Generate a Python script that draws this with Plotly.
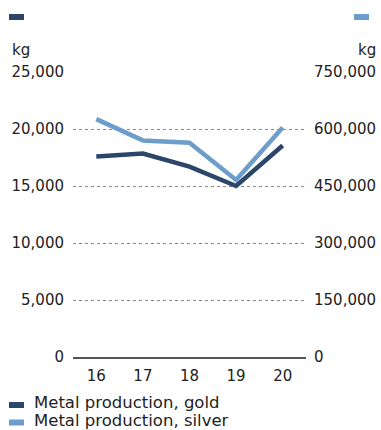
import plotly.graph_objects as go

years = ["16", "17", "18", "19", "20"]
gold_kg = [17600, 17850, 16700, 15000, 18550]
silver_kg = [626000, 570000, 564000, 466000, 604000]
left_ticks = [0, 5000, 10000, 15000, 20000, 25000]
right_ticks = [0, 150000, 300000, 450000, 600000, 750000]

GOLD = "#2b4669"
SILVER = "#6d9ecb"
TXT = "#222222"
FONT = "DejaVu Sans"
PW, PH = 233, 285  # plot area size in px

fig = go.Figure()
fig.add_trace(go.Scatter(x=years, y=gold_kg, mode="lines", name="Metal production, gold",
                         line=dict(color=GOLD, width=4.5), yaxis="y"))
fig.add_trace(go.Scatter(x=years, y=silver_kg, mode="lines", name="Metal production, silver",
                         line=dict(color=SILVER, width=4.5), yaxis="y2"))

fig.update_layout(
    width=381, height=430,
    margin=dict(l=73, r=75, t=72, b=73, autoexpand=False),
    paper_bgcolor="white", plot_bgcolor="white",
    showlegend=False,
    font=dict(family=FONT, size=15, color=TXT),
    xaxis=dict(type="category", range=[-0.5, 4.5], showgrid=False, zeroline=False,
               showline=True, linecolor="#555555", linewidth=1.5,
               ticks="outside", ticklen=4, tickcolor="rgba(0,0,0,0)",
               tickfont=dict(family=FONT, size=15, color=TXT)),
    yaxis=dict(range=[0, 25002], tickvals=left_ticks, tickformat=",d",
               showgrid=True, gridcolor="#888888", griddash="dot", gridwidth=1,
               zeroline=False, showline=False,
               ticks="outside", ticklen=5, tickcolor="rgba(0,0,0,0)",
               tickfont=dict(family=FONT, size=15, color=TXT)),
    yaxis2=dict(range=[0, 750060], tickvals=right_ticks, tickformat=",d",
                overlaying="y", side="right", showgrid=False, zeroline=False,
                showline=False, ticks="outside", ticklen=4, tickcolor="rgba(0,0,0,0)",
                tickfont=dict(family=FONT, size=15, color=TXT)),
)

# top series markers and unit labels
fig.add_shape(type="rect", xref="paper", yref="paper", x0=-64/PW, x1=-49/PW,
              y0=1 + 52/PH, y1=1 + 58/PH, fillcolor=GOLD, line_width=0)
fig.add_shape(type="rect", xref="paper", yref="paper", x0=1 + 48/PW, x1=1 + 63/PW,
              y0=1 + 52/PH, y1=1 + 58/PH, fillcolor=SILVER, line_width=0)
fig.add_annotation(text="kg", xref="paper", yref="paper", x=-63/PW, y=1 + 22/PH,
                   xanchor="left", yanchor="middle", showarrow=False,
                   font=dict(family=FONT, size=15, color=TXT))
fig.add_annotation(text="kg", xref="paper", yref="paper", x=1 + 72/PW, y=1 + 22/PH,
                   xanchor="right", yanchor="middle", showarrow=False,
                   font=dict(family=FONT, size=15, color=TXT))

# bottom legend
for i, (name, col) in enumerate([("Metal production, gold", GOLD),
                                 ("Metal production, silver", SILVER)]):
    mc = -(48 + 17.5 * i) / PH
    tc = -(45 + 18 * i) / PH
    fig.add_shape(type="rect", xref="paper", yref="paper", x0=-64/PW, x1=-49/PW,
                  y0=mc - 3/PH, y1=mc + 3/PH, fillcolor=col, line_width=0)
    fig.add_annotation(text=name, xref="paper", yref="paper", x=-41/PW, y=tc,
                       xanchor="left", yanchor="middle", showarrow=False,
                       font=dict(family=FONT, size=16.5, color=TXT))

fig.write_html("out.html",
               config={"displayModeBar": False, "staticPlot": True},
               post_script="document.body.style.margin='0';"
                           "document.body.style.overflow='hidden';")
